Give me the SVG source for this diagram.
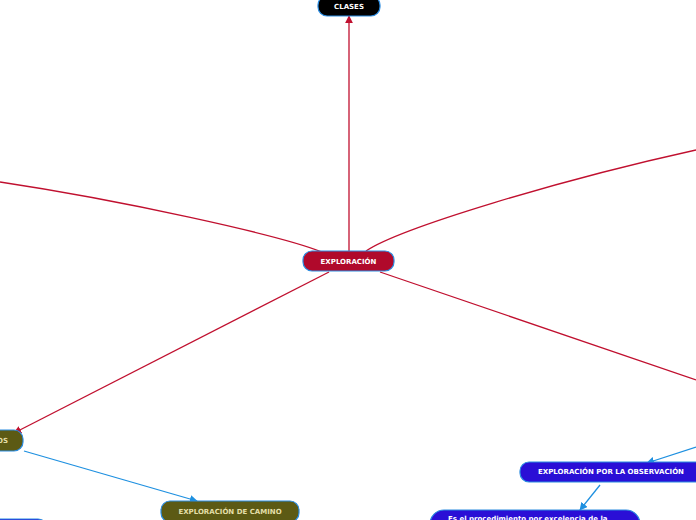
<svg xmlns="http://www.w3.org/2000/svg" width="696" height="520" viewBox="0 0 696 520">
<defs>
<marker id="ar" viewBox="0 0 10 10" refX="9" refY="5" markerWidth="8" markerHeight="8" markerUnits="userSpaceOnUse" orient="auto"><path d="M0,0 L10,5 L0,10 z" fill="#c0102f"/></marker>
<marker id="ab" viewBox="0 0 10 10" refX="9" refY="5" markerWidth="8" markerHeight="8" markerUnits="userSpaceOnUse" orient="auto"><path d="M0,0 L10,5 L0,10 z" fill="#1e90e0"/></marker>
<style>
.r{fill:none;stroke:#c0102f;stroke-width:1.3}
.b{fill:none;stroke:#1e90e0;stroke-width:1.3}
.t{font-family:"DejaVu Sans",Verdana,sans-serif;font-weight:bold;font-size:7px;text-anchor:middle;dominant-baseline:central}
.n{stroke:#2a8be0;stroke-width:1.2}
</style>
</defs>
<rect width="696" height="520" fill="#fff"/>
<g id="connectors">
<path class="r" d="M349,251 L349,16" marker-end="url(#ar)"/>
<path class="r" d="M322,252 C280,235 120,200 0,182"/>
<path class="r" d="M366,251 C400,228 560,180 696,150"/>
<path class="r" d="M329,272 L14,433" marker-end="url(#ar)"/>
<path class="r" d="M380,272 L696,380"/>
<path class="b" d="M24,451 L197,501" marker-end="url(#ab)"/>
<path class="b" d="M696,447 L647,463" marker-end="url(#ab)"/>
<path class="b" d="M600,485 L580,510" marker-end="url(#ab)"/>
</g>
<g id="clases">
<rect class="n" x="318" y="-4" width="62" height="20" rx="9" fill="#000"/>
<text class="t" x="349" y="7" fill="#fff">CLASES</text>
</g>
<g id="exploracion">
<rect class="n" x="303" y="251" width="91" height="20" rx="9" fill="#b0092b"/>
<text class="t" x="348.5" y="261.5" fill="#fff">EXPLORACIÓN</text>
</g>
<g id="olive-left">
<rect class="n" x="-40" y="430" width="63" height="21" rx="9" fill="#5c5a14"/>
<text class="t" x="8" y="441" fill="#e4dfa8" style="text-anchor:end">OS</text>
</g>
<g id="camino">
<rect class="n" x="161" y="501" width="138" height="21" rx="9" fill="#5c5a14"/>
<text class="t" x="230" y="511.5" fill="#e4dfa8">EXPLORACIÓN DE CAMINO</text>
</g>
<g id="bottom-left">
<rect class="n" x="-40" y="519" width="87" height="20" rx="9" fill="#2a0fd6"/>
</g>
<g id="observacion">
<rect class="n" x="520" y="462" width="190" height="20" rx="9" fill="#2a0fd6"/>
<text class="t" x="611" y="472" fill="#fff">EXPLORACIÓN POR LA OBSERVACIÓN</text>
</g>
<g id="procedimiento">
<rect class="n" x="430" y="510" width="210" height="40" rx="14" fill="#2a0fd6"/>
<text x="448" y="521" fill="#fff" font-family="DejaVu Sans,Verdana,sans-serif" font-weight="bold" font-size="7">Es el procedimiento por excelencia de la</text>
</g>
</svg>
